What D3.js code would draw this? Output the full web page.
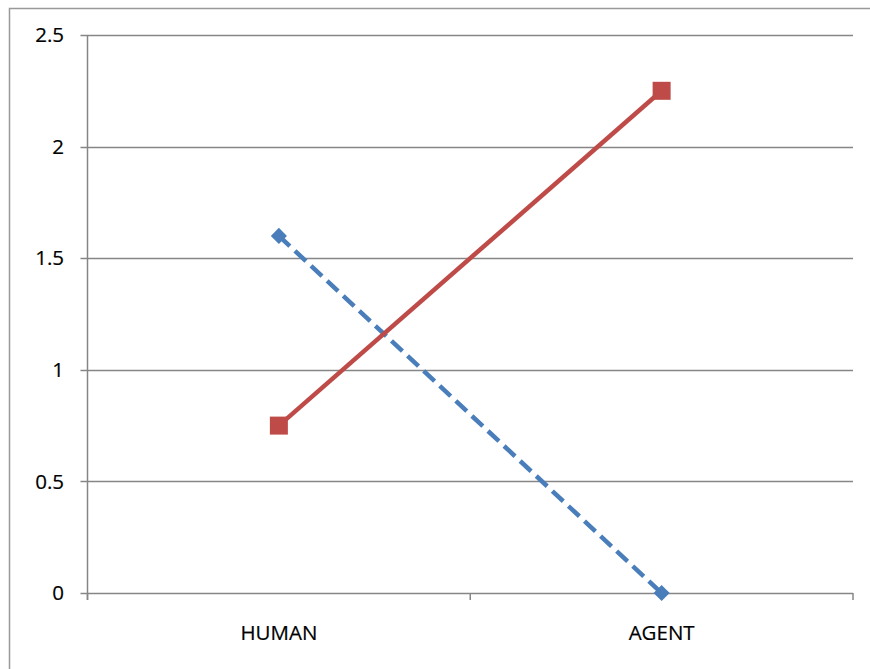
<!DOCTYPE html>
<html><head><meta charset="utf-8">
<script src="https://cdn.jsdelivr.net/npm/d3@7"></script>
<style>body{margin:0;background:#fff}svg{display:block}</style>
</head><body>
<svg id="c" width="870" height="669"></svg>
<script>
const categories = ["HUMAN", "AGENT"];
const seriesBlue = [1.6, 0];
const seriesRed = [0.75, 2.25];
const yTicks = [0, 0.5, 1, 1.5, 2, 2.5];
const yTickLabels = ["0", "0.5", "1", "1.5", "2", "2.5"];

const svg = d3.select("#c");
const L = 87.5, R = 853, T = 35, B = 593;
const font = "'Open Sans', 'Noto Sans', sans-serif";

svg.append("rect").attr("x", 9.5).attr("y", 8.5).attr("width", 900).attr("height", 700)
  .attr("fill", "none").attr("stroke", "#999").attr("stroke-width", 1.5);

const y = d3.scaleLinear().domain([0, 2.5]).range([B, T]);
const x = d3.scaleBand().domain(categories).range([L, R]).paddingInner(0).paddingOuter(0);
const xc = c => x(c) + x.bandwidth() / 2;

// gridlines
svg.append("g").selectAll("line").data(yTicks).join("line")
  .attr("x1", L - 7).attr("x2", R).attr("y1", d => Math.round(y(d)) + 0.5).attr("y2", d => Math.round(y(d)) + 0.5)
  .attr("stroke", "#868686").attr("stroke-width", 1.5);

// y axis line
svg.append("line").attr("x1", L).attr("x2", L).attr("y1", T).attr("y2", B + 7)
  .attr("stroke", "#868686").attr("stroke-width", 1.5);

// x tick marks
const xb = [L, ...categories.map(c => x(c) + x.bandwidth())];
svg.append("g").selectAll("line").data(xb).join("line")
  .attr("x1", d => d).attr("x2", d => d).attr("y1", B).attr("y2", B + 7)
  .attr("stroke", "#868686").attr("stroke-width", 1.5);

// y labels
svg.append("g").selectAll("text").data(yTicks).join("text")
  .attr("x", 64).attr("y", d => y(d)).attr("dy", "0.35em").attr("text-anchor", "end")
  .attr("font-family", font).attr("font-size", 20.5).attr("fill", "#000")
  .attr("stroke", "#000").attr("stroke-width", 0.2)
  .text((d, i) => yTickLabels[i]);

// x labels
svg.append("g").selectAll("text").data(categories).join("text")
  .attr("x", d => xc(d)).attr("y", 640).attr("text-anchor", "middle")
  .attr("font-family", font).attr("font-size", 20.5).attr("fill", "#000")
  .attr("stroke", "#000").attr("stroke-width", 0.2)
  .text(d => d);

const line = d3.line().x((d, i) => xc(categories[i])).y(d => y(d));

// blue dashed
svg.append("path").datum(seriesBlue).attr("d", line).attr("fill", "none")
  .attr("stroke", "#4a7ebb").attr("stroke-width", 4.5).attr("stroke-dasharray", "15,7");
svg.append("g").selectAll("path").data(seriesBlue).join("path")
  .attr("d", d3.symbol().type(d3.symbolSquare).size(130))
  .attr("transform", (d, i) => `translate(${xc(categories[i])},${y(d)}) rotate(45)`)
  .attr("fill", "#4a7ebb");

// red solid
svg.append("path").datum(seriesRed).attr("d", line).attr("fill", "none")
  .attr("stroke", "#be4b48").attr("stroke-width", 4.5);
svg.append("g").selectAll("rect").data(seriesRed).join("rect")
  .attr("x", (d, i) => xc(categories[i]) - 9).attr("y", d => y(d) - 9)
  .attr("width", 18).attr("height", 18).attr("fill", "#be4b48");
</script>
</body></html>
